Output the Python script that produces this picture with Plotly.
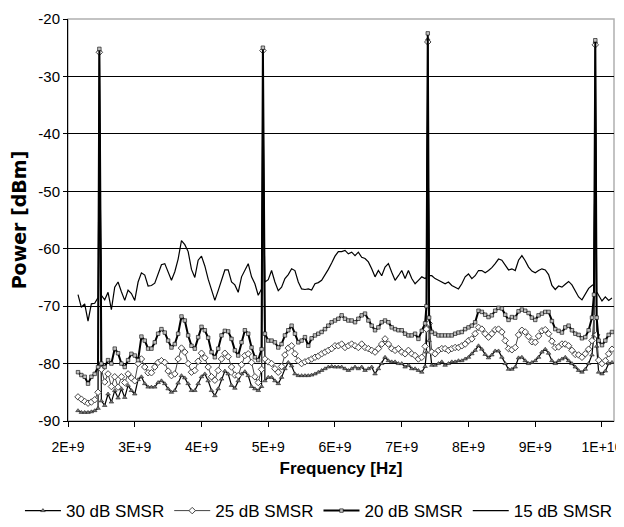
import plotly.graph_objects as go

# Frequency grid in GHz (converted to Hz below)
freq_ghz = [
    2.15, 2.20, 2.25, 2.30, 2.35, 2.40, 2.45, 2.47, 2.50,
    2.55, 2.60, 2.65, 2.70, 2.75, 2.80, 2.85, 2.90, 2.95, 3.00,
    3.05, 3.10, 3.15, 3.20, 3.25, 3.30, 3.35, 3.40, 3.45, 3.50,
    3.55, 3.60, 3.65, 3.70, 3.75, 3.80, 3.85, 3.90, 3.95, 4.00,
    4.05, 4.10, 4.15, 4.20, 4.25, 4.30, 4.35, 4.40, 4.45, 4.50,
    4.55, 4.60, 4.65, 4.70, 4.75, 4.80, 4.85, 4.90, 4.92, 4.95, 5.00,
    5.05, 5.10, 5.15, 5.20, 5.25, 5.30, 5.35, 5.40, 5.45, 5.50,
    5.55, 5.60, 5.65, 5.70, 5.75, 5.80, 5.85, 5.90, 5.95, 6.00,
    6.05, 6.10, 6.15, 6.20, 6.25, 6.30, 6.35, 6.40, 6.45, 6.50,
    6.55, 6.60, 6.65, 6.70, 6.75, 6.80, 6.85, 6.90, 6.95, 7.00,
    7.05, 7.10, 7.15, 7.20, 7.25, 7.30, 7.35, 7.37, 7.39, 7.41, 7.45,
    7.50, 7.55, 7.60, 7.65, 7.70, 7.75, 7.80, 7.85, 7.90, 7.95,
    8.00, 8.05, 8.10, 8.15, 8.20, 8.25, 8.30, 8.35, 8.40, 8.45,
    8.50, 8.55, 8.60, 8.65, 8.70, 8.75, 8.80, 8.85, 8.90, 8.95,
    9.00, 9.05, 9.10, 9.15, 9.20, 9.25, 9.30, 9.35, 9.40, 9.45,
    9.50, 9.55, 9.60, 9.65, 9.70, 9.75, 9.80, 9.85, 9.88, 9.90, 9.92, 9.95,
    10.00, 10.05, 10.10, 10.15,
]

smsr_15 = [
    -68.0, -70.2, -69.6, -72.6, -69.6, -69.5, -68.5, -36.0, -68.1,
    -68.9, -67.6, -70.6, -66.7, -65.8, -67.5, -69.0, -67.2, -67.8, -69.0,
    -65.8, -64.2, -64.6, -66.5, -66.4, -66.0, -64.4, -62.8, -62.6, -64.2,
    -65.5, -64.0, -61.8, -58.6, -59.3, -60.5, -63.6, -65.0, -62.0, -61.3,
    -63.0, -65.3, -67.0, -69.0, -67.3, -65.5, -63.7, -63.7, -65.8, -66.3,
    -67.6, -64.9, -63.8, -62.6, -64.9, -66.1, -68.1, -67.0, -46.0, -65.8, -65.4,
    -63.8, -65.8, -67.3, -66.7, -65.2, -64.5, -63.5, -63.8, -65.8, -67.0,
    -67.1, -67.0, -67.2, -66.1, -65.9, -65.5, -64.6, -63.6, -62.5, -61.3,
    -60.5, -60.5, -60.3, -60.9, -60.6, -61.2, -60.6, -61.5, -61.7, -62.3,
    -63.5, -64.9, -63.8, -64.7, -63.2, -62.6, -64.1, -65.5, -64.7, -63.8,
    -65.2, -63.8, -65.2, -66.1, -65.5, -64.9, -65.2, -65.0, -34.0, -64.7, -64.7,
    -65.2, -65.5, -65.8, -66.1, -65.8, -66.4, -66.7, -67.0, -66.1, -64.9,
    -64.4, -65.2, -64.7, -63.8, -63.8, -64.2, -63.8, -63.3, -62.6, -61.8,
    -62.0, -62.9, -63.7, -63.5, -63.8, -62.0, -61.2, -62.1, -63.2, -63.9,
    -64.2, -63.8, -63.5, -63.7, -64.5, -66.4, -67.1, -66.5, -66.7, -66.2,
    -65.7, -66.3, -67.5, -68.4, -68.9, -67.8, -66.9, -66.4, -66.2, -33.0, -67.5, -68.1,
    -69.1, -68.4, -69.0, -68.6,
]

smsr_20 = [
    -81.5, -82.0, -82.3, -83.5, -82.3, -81.8, -80.6, -25.2, -80.0,
    -80.6, -79.4, -80.0, -77.4, -78.2, -80.0, -80.6, -79.4, -78.3, -78.6,
    -79.4, -75.3, -76.0, -77.4, -77.4, -76.3, -74.8, -74.0, -74.6, -76.0,
    -77.2, -76.6, -74.8, -71.8, -72.5, -75.1, -76.9, -77.4, -75.4, -73.6,
    -74.2, -75.5, -78.0, -78.9, -77.4, -75.1, -74.3, -74.4, -75.7, -77.7,
    -78.6, -76.3, -74.2, -74.8, -77.2, -78.9, -79.4, -77.5, -25.0, -74.8, -76.0,
    -76.0, -76.3, -77.2, -76.6, -75.1, -74.2, -73.4, -74.8, -76.3, -76.0,
    -75.4, -76.9, -75.6, -75.1, -74.8, -74.5, -74.0, -73.4, -72.8, -72.5,
    -72.2, -71.6, -72.2, -72.5, -72.5, -72.8, -72.2, -71.6, -71.3, -72.5,
    -73.4, -74.2, -73.7, -72.8, -72.5, -72.8, -73.7, -74.0, -74.2, -74.2,
    -74.8, -75.1, -75.1, -74.8, -75.7, -74.3, -73.0, -70.0, -22.5, -72.0, -74.5,
    -74.8, -75.1, -75.1, -75.1, -75.1, -75.1, -74.8, -74.6, -74.5, -74.0,
    -73.7, -73.4, -72.8, -70.8, -71.0, -71.5, -71.9, -71.6, -70.8, -70.3,
    -70.4, -71.5, -72.4, -71.9, -72.0, -70.9, -70.6, -70.8, -71.2, -72.0,
    -72.4, -71.6, -71.3, -71.0, -71.0, -72.6, -74.0, -74.3, -74.6, -73.7,
    -73.4, -74.2, -74.8, -75.0, -75.6, -75.4, -74.2, -72.0, -68.0, -23.7, -72.0, -76.0,
    -76.8, -76.0, -75.0, -74.5,
]

smsr_25 = [
    -85.8, -86.2, -86.6, -86.9, -86.7, -86.3, -85.0, -25.8, -81.0,
    -83.2, -81.8, -84.0, -82.3, -84.1, -82.3, -83.3, -81.8, -82.5, -83.0,
    -80.0, -79.2, -80.6, -81.6, -81.6, -80.6, -79.8, -79.5, -79.8, -81.3,
    -82.1, -81.8, -79.2, -77.3, -78.0, -80.0, -81.5, -81.2, -79.6, -78.2,
    -79.0, -80.6, -82.3, -82.9, -81.2, -79.2, -78.2, -78.8, -80.6, -82.0,
    -82.1, -80.2, -78.6, -78.3, -79.8, -82.3, -83.3, -81.0, -25.5, -79.2, -79.7,
    -80.0, -80.9, -81.5, -80.5, -78.5, -77.3, -76.9, -78.3, -79.5, -80.0,
    -79.7, -79.5, -79.2, -78.9, -78.7, -78.3, -78.0, -77.7, -77.4, -76.9,
    -76.9, -76.6, -77.2, -76.9, -76.6, -76.9, -77.2, -76.6, -77.2, -77.4,
    -77.7, -78.0, -77.4, -76.6, -75.7, -76.6, -77.4, -77.7, -77.4, -78.0,
    -78.3, -77.7, -78.3, -78.6, -79.2, -78.9, -77.0, -74.0, -24.0, -73.0, -78.0,
    -78.3, -77.7, -77.4, -77.4, -77.7, -77.4, -77.2, -77.2, -76.9, -76.6,
    -76.0, -75.7, -74.8, -73.7, -74.0, -74.8, -75.4, -74.8, -74.1, -74.0,
    -74.5, -76.0, -77.4, -77.6, -77.2, -75.0, -74.2, -74.5, -75.3, -76.2,
    -76.3, -75.2, -74.3, -74.1, -74.8, -76.1, -77.2, -77.1, -76.6, -76.6,
    -76.9, -77.7, -78.4, -78.5, -78.9, -78.3, -77.5, -76.0, -72.0, -24.5, -75.0, -79.4,
    -80.0, -79.5, -78.3, -77.5,
]

smsr_30 = [
    -88.2, -88.5, -88.5, -88.5, -88.4, -88.2, -87.8, -25.5, -86.5,
    -87.3, -85.3, -86.7, -84.7, -86.0, -84.4, -85.9, -83.8, -84.7, -85.3,
    -82.8, -82.3, -83.5, -84.1, -84.1, -84.1, -83.3, -83.0, -83.5, -84.4,
    -85.0, -84.7, -83.4, -82.1, -82.5, -83.5, -84.7, -84.7, -83.5, -82.3,
    -81.8, -83.0, -84.7, -85.6, -84.4, -82.7, -81.3, -81.8, -83.8, -84.3,
    -83.0, -81.8, -81.4, -82.1, -84.0, -84.4, -84.7, -84.0, -25.3, -83.0, -82.4,
    -82.4, -83.0, -83.5, -82.4, -80.9, -79.8, -80.4, -81.8, -82.1, -82.1,
    -82.1, -82.1, -82.0, -81.8, -81.5, -81.2, -80.9, -80.6, -80.5, -80.6,
    -80.6, -80.6, -80.9, -81.2, -80.9, -80.6, -80.9, -80.6, -81.2, -80.9,
    -80.6, -81.8, -80.9, -80.0, -78.9, -79.5, -79.7, -79.7, -80.0, -80.0,
    -80.6, -80.3, -80.9, -80.9, -81.2, -81.5, -80.5, -78.0, -23.5, -76.0, -80.3,
    -80.3, -80.0, -79.7, -80.3, -80.0, -79.7, -79.7, -79.5, -79.5, -79.2,
    -78.9, -78.3, -77.7, -76.9, -77.5, -78.4, -79.0, -78.5, -77.8, -77.8,
    -78.9, -80.0, -81.0, -81.0, -80.6, -79.0, -78.9, -79.5, -80.0, -79.8,
    -79.5, -78.9, -78.0, -77.5, -78.2, -79.5, -80.0, -79.5, -79.2, -78.9,
    -79.5, -80.0, -80.6, -81.2, -81.5, -81.0, -80.0, -78.5, -75.0, -24.0, -77.0, -81.5,
    -81.8, -81.3, -80.0, -79.8,
]

x_tick_vals = [2e9, 3e9, 4e9, 5e9, 6e9, 7e9, 8e9, 9e9, 1e10]
x_tick_text = ["2E+9", "3E+9", "4E+9", "5E+9", "6E+9", "7E+9", "8E+9", "9E+9", "1E+10"]
y_tick_vals = [-90, -80, -70, -60, -50, -40, -30, -20]
y_tick_text = ["-90", "-80", "-70", "-60", "-50", "-40", "-30", "-20"]

for s in (smsr_15, smsr_20, smsr_25, smsr_30):
    assert len(s) == len(freq_ghz), len(s)

freq_hz = [f * 1e9 for f in freq_ghz]

FONT = "Liberation Sans, Arial, sans-serif"

fig = go.Figure()
fig.add_trace(go.Scatter(
    x=freq_hz, y=smsr_30, name="30 dB SMSR", mode="lines+markers",
    line=dict(color="#000000", width=1.2),
    marker=dict(symbol="triangle-up", size=4, color="#777777",
                line=dict(color="#222222", width=0.6)),
))
fig.add_trace(go.Scatter(
    x=freq_hz, y=smsr_25, name="25 dB SMSR", mode="lines+markers",
    line=dict(color="#444444", width=1),
    marker=dict(symbol="diamond", size=5, color="white",
                line=dict(color="#444444", width=1)),
))
fig.add_trace(go.Scatter(
    x=freq_hz, y=smsr_20, name="20 dB SMSR", mode="lines+markers",
    line=dict(color="#000000", width=2),
    marker=dict(symbol="square", size=3.5, color="#c0c0c0",
                line=dict(color="#000000", width=0.6)),
))
fig.add_trace(go.Scatter(
    x=freq_hz, y=smsr_15, name="15 dB SMSR", mode="lines",
    line=dict(color="#000000", width=1.2),
))

# The page body keeps its default 8px margin, so the figure is sized 8px
# smaller and its plot area placed to land where the reference has it.
fig.update_layout(
    width=616, height=519,
    margin=dict(l=60, r=10, t=11, b=106, autoexpand=False),
    paper_bgcolor="white", plot_bgcolor="white",
    font=dict(family=FONT, color="black", size=14),
    showlegend=True,
    legend=dict(
        orientation="h", xref="paper", yref="paper",
        x=-0.088, xanchor="left", y=-0.224, yanchor="middle",
        font=dict(family=FONT, size=17, color="black"),
        itemwidth=36, bgcolor="rgba(0,0,0,0)", tracegroupgap=0,
    ),
    xaxis=dict(
        range=[2.0e9, 10.18e9], tickvals=x_tick_vals, ticktext=x_tick_text,
        showgrid=False, zeroline=False,
        showline=True, linecolor="black", linewidth=1,
        ticks="outside", ticklen=5, tickcolor="black",
        ticklabelstandoff=8, tickangle=0, ticklabeloverflow="allow",
        tickfont=dict(family=FONT, size=14),
        title=dict(text="<b>Frequency [Hz]</b>", standoff=8,
                   font=dict(family=FONT, size=17)),
    ),
    yaxis=dict(
        range=[-90, -20], tickvals=y_tick_vals, ticktext=y_tick_text,
        showgrid=True, gridcolor="black", gridwidth=1, zeroline=False,
        showline=True, linecolor="black", linewidth=1,
        ticks="outside", ticklen=4, tickcolor="black",
        tickfont=dict(family=FONT, size=15),
        title=dict(text="<b>Power [dBm]</b>", standoff=8,
                   font=dict(family="DejaVu Sans, sans-serif", size=19)),
    ),
    shapes=[dict(type="rect", xref="paper", yref="paper", x0=0, x1=1, y0=0, y1=1,
                 line=dict(color="#b0b0b0", width=1.5), layer="below")],
)

fig.write_html("out.html")
